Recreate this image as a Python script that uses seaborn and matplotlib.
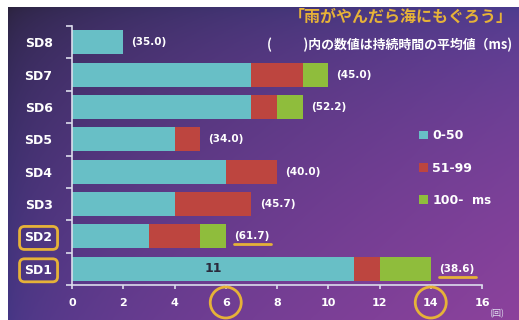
import numpy as np
import pandas as pd
import matplotlib
matplotlib.use("Agg")
import matplotlib.pyplot as plt
import seaborn as sns
from matplotlib.patches import Patch, FancyBboxPatch, Ellipse
from matplotlib.lines import Line2D
from matplotlib.transforms import IdentityTransform

# ---- data -------------------------------------------------------------
categories = ["SD8", "SD7", "SD6", "SD5", "SD4", "SD3", "SD2", "SD1"]
count_0_50 = [2, 7, 7, 4, 6, 4, 3, 11]
count_51_99 = [0, 2, 1, 1, 2, 3, 2, 1]
count_100_up = [0, 1, 1, 0, 0, 0, 1, 2]
mean_duration = [35.0, 45.0, 52.2, 34.0, 40.0, 45.7, 61.7, 38.6]
segment_labels = ["0-50", "51-99", "100-"]
x_ticks = [0, 2, 4, 6, 8, 10, 12, 14, 16]
boxed_categories = ["SD2", "SD1"]
circled_ticks = [6, 14]
underlined_categories = ["SD2", "SD1"]
inside_label_category = "SD1"

title = "「雨がやんだら海にもぐろう」"
subtitle = "(　  　)内の数値は持続時間の平均値（ms)"

TEAL = "#68bfc6"
RED = "#bd453f"
GREEN = "#8fbd3c"
GOLD = "#e6b238"
CJK = ["Noto Sans CJK JP", "DejaVu Sans"]

sns.set_theme(style="ticks")
plt.rcParams["font.family"] = ["DejaVu Sans"]

W, H = 519, 320
fig = plt.figure(figsize=(W / 100, H / 100), dpi=100)
fig.patch.set_facecolor("white")

# ---- purple gradient panel ---------------------------------------------
bg = fig.add_axes([8 / W, 0, (W - 8) / W, (H - 7) / H])
bg.set_axis_off()
tl = np.array([42, 34, 58]) / 255
tr = np.array([74, 60, 142]) / 255
bl = np.array([68, 54, 132]) / 255
br = np.array([140, 66, 156]) / 255
u = np.linspace(0, 1, 300)[None, :, None]
v = np.linspace(0, 1, 200)[:, None, None]
u2, v2 = u ** 0.55, v ** 0.55
grad = (tl * (1 - u2) * (1 - v2) + tr * u2 * (1 - v2)
        + bl * (1 - u2) * v2 + br * u2 * v2)
bg.imshow(np.clip(grad, 0, 1), aspect="auto", interpolation="bilinear")

# ---- stacked bars -------------------------------------------------------
ax = fig.add_axes([72 / W, 35 / H, 410 / W, 259 / H])
ax.patch.set_alpha(0)

df = pd.DataFrame({
    "category": categories,
    "low": count_0_50,
    "mid": count_51_99,
    "high": count_100_up,
})
df["cum_low"] = df["low"]
df["cum_mid"] = df["low"] + df["mid"]
df["cum_high"] = df["cum_mid"] + df["high"]

for col, color in [("cum_high", GREEN), ("cum_mid", RED), ("cum_low", TEAL)]:
    sns.barplot(data=df, x=col, y="category", color=color, orient="h",
                width=0.74, saturation=1, errorbar=None, linewidth=0,
                ax=ax)

ax.set_xlabel("")
ax.set_ylabel("")
ax.set_xlim(0, 16)
ax.set_ylim(len(categories) - 0.5, -0.5)
ax.set_xticks(x_ticks)

for side in ["top", "right"]:
    ax.spines[side].set_visible(False)
for side in ["left", "bottom"]:
    ax.spines[side].set_color("#dcdcec")
    ax.spines[side].set_linewidth(1.2)

ax.tick_params(axis="x", colors="#dcdcec", length=3, width=1.2, pad=6,
               labelsize=8, labelcolor="white")
ax.tick_params(axis="y", which="major", length=0, pad=14,
               labelsize=9, labelcolor="white")
ax.set_yticks(np.arange(-0.5, len(categories), 1), minor=True)
ax.tick_params(axis="y", which="minor", length=4, width=1.2,
               color="#dcdcec")
for lab in ax.get_xticklabels() + ax.get_yticklabels():
    lab.set_fontweight("bold")

# average-duration labels
value_texts = {}
for i, (cat, tot, m) in enumerate(zip(df["category"], df["cum_high"],
                                      mean_duration)):
    value_texts[cat] = ax.annotate(
        f"({m:.1f})", xy=(tot, i), xytext=(6, 0), textcoords="offset points",
        ha="left", va="center", color="white", fontsize=7.5,
        fontweight="bold")

# count inside the long 0-50 segment
k = categories.index(inside_label_category)
ax.text(count_0_50[k] / 2, k, str(count_0_50[k]), ha="center", va="center",
        color="#2a2a3c", fontsize=9, fontweight="bold")

# ---- legend -------------------------------------------------------------
handles = [Patch(facecolor=c, edgecolor="none") for c in (TEAL, RED, GREEN)]
leg = fig.legend(handles, segment_labels, loc="upper left",
                 bbox_to_anchor=(408 / W, 1 - 118 / H), frameon=False,
                 handlelength=0.7, handleheight=0.7, handletextpad=0.35,
                 labelspacing=1.55, prop={"size": 9, "weight": "bold"},
                 labelcolor="white")
fig.text(472 / W, 1 - 200 / H, "ms", ha="left", va="center", color="white",
         fontsize=8.5, fontweight="bold")

# ---- titles -------------------------------------------------------------
fig.text(513 / W, 1 - 17 / H, title, ha="right", va="center", color=GOLD,
         fontsize=11.5, fontweight="bold", family=CJK)
fig.text(512 / W, 1 - 45 / H, subtitle, ha="right", va="center",
         color="white", fontsize=9.3, fontweight="bold", family=CJK)
fig.text(497 / W, 1 - 314 / H, "(回)", ha="center", va="center",
         color="#e0e0f0", fontsize=6.5, family=CJK)

# ---- highlight marks around labels -------------------------------------
fig.canvas.draw()
renderer = fig.canvas.get_renderer()

for lab in ax.get_yticklabels():
    if lab.get_text() in boxed_categories:
        bb = lab.get_window_extent(renderer)
        cy = (bb.y0 + bb.y1) / 2
        x0, x1 = bb.x0 - 5, bb.x1 + 5
        box = FancyBboxPatch((x0, cy - 11.5), x1 - x0, 23,
                             boxstyle="round,pad=0,rounding_size=5",
                             fill=False, edgecolor=GOLD, linewidth=2,
                             transform=IdentityTransform(), clip_on=False)
        fig.add_artist(box)

for lab in ax.get_xticklabels():
    try:
        val = float(lab.get_text().replace("−", "-"))
    except ValueError:
        continue
    if val in circled_ticks:
        bb = lab.get_window_extent(renderer)
        cx, cy = (bb.x0 + bb.x1) / 2, (bb.y0 + bb.y1) / 2
        fig.add_artist(Ellipse((cx, cy), 31, 31, fill=False,
                               edgecolor=GOLD, linewidth=2,
                               transform=IdentityTransform(), clip_on=False))

for cat in underlined_categories:
    bb = value_texts[cat].get_window_extent(renderer)
    fig.add_artist(Line2D([bb.x0, bb.x1 + 2], [bb.y0 - 3, bb.y0 - 3],
                          color=GOLD, linewidth=2,
                          transform=IdentityTransform()))

fig.savefig("out.png", dpi=100, facecolor=fig.get_facecolor())
